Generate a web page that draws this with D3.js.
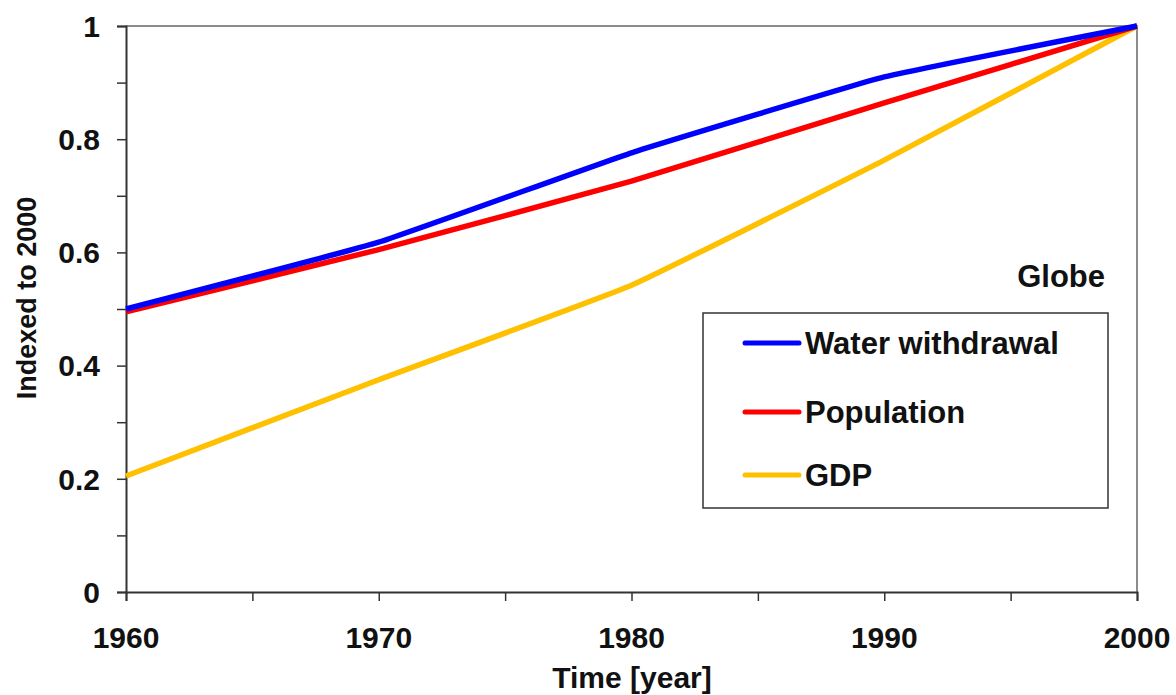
<!DOCTYPE html>
<html><head><meta charset="utf-8">
<script src="https://cdn.jsdelivr.net/npm/d3@7"></script>
<style>body{margin:0;background:#fff}svg{display:block}text{font-family:"Liberation Sans",Arial,sans-serif;font-weight:bold;fill:#111}</style>
</head><body>
<script>
const years = [1960, 1970, 1980, 1990, 2000];
const waterWithdrawal = [0.500, 0.618, 0.776, 0.910, 1.000];
const population = [0.495, 0.605, 0.726, 0.864, 1.000];
const gdp = [0.205, 0.375, 0.542, 0.763, 1.000];
const seriesNames = ["Water withdrawal", "Population", "GDP"];
const seriesColors = ["#0000ff", "#ff0000", "#ffc000"];
const xTickLabels = [1960, 1970, 1980, 1990, 2000];
const yTickLabels = [0, 0.2, 0.4, 0.6, 0.8, 1];

const W = 1176, H = 695;
const svg = d3.select("body").append("svg").attr("width", W).attr("height", H);
const x = d3.scaleLinear().domain([1960, 2000]).range([126, 1137]);
const y = d3.scaleLinear().domain([0, 1]).range([592, 26]);

// frame top/right
svg.append("path").attr("d", `M${x(1960)},${y(1)}H${x(2000)}V${y(0)}`)
  .attr("fill", "none").attr("stroke", "#8c8c8c").attr("stroke-width", 2);

// y axis
const yAxis = svg.append("g").attr("transform", `translate(${x(1960)},0)`)
  .call(d3.axisLeft(y).tickValues(d3.range(0, 1.01, 0.1)).tickSize(9).tickFormat(""));
yAxis.select(".domain").attr("stroke", "#333").attr("stroke-width", 2);
yAxis.selectAll(".tick line").attr("stroke", "#333").attr("stroke-width", 1.5);
svg.append("g").selectAll("text").data(yTickLabels).join("text")
  .attr("x", 100).attr("y", d => y(d)).attr("dy", "0.36em")
  .attr("text-anchor", "end").attr("font-size", 30).text(d => d3.format("")(d));

// x axis
const xAxis = svg.append("g").attr("transform", `translate(0,${y(0)})`)
  .call(d3.axisBottom(x).tickValues(d3.range(1960, 2001, 5)).tickSize(9).tickFormat(""));
xAxis.select(".domain").attr("stroke", "#333").attr("stroke-width", 2);
xAxis.selectAll(".tick line").attr("stroke", "#333").attr("stroke-width", 1.5);
svg.append("g").selectAll("text").data(xTickLabels).join("text")
  .attr("x", d => x(d)).attr("y", 648)
  .attr("text-anchor", "middle").attr("font-size", 30).text(d => d);

// titles
svg.append("text").attr("x", 632).attr("y", 688).attr("text-anchor", "middle")
  .attr("font-size", 30).text("Time [year]");
svg.append("text").attr("transform", "translate(36,298) rotate(-90)").attr("text-anchor", "middle")
  .attr("font-size", 27).text("Indexed to 2000");

// lines
const allSeries = [waterWithdrawal, population, gdp];
const line = d3.line().x((d, i) => x(years[i])).y(d => y(d)).curve(d3.curveCardinal.tension(0.7));
[2, 1, 0].forEach(k => {
  svg.append("path").datum(allSeries[k]).attr("d", line)
    .attr("fill", "none").attr("stroke", seriesColors[k]).attr("stroke-width", 5.5)
    .attr("stroke-linejoin", "round");
});

// Globe label
svg.append("text").attr("x", 1105).attr("y", 287).attr("text-anchor", "end")
  .attr("font-size", 31).text("Globe");

// legend
svg.append("rect").attr("x", 703).attr("y", 313).attr("width", 405).attr("height", 195)
  .attr("fill", "#fff").attr("stroke", "#333").attr("stroke-width", 1.5);
const legY = [343, 412, 475];
seriesNames.forEach((n, i) => {
  svg.append("line").attr("x1", 745).attr("x2", 799).attr("y1", legY[i]).attr("y2", legY[i])
    .attr("stroke", seriesColors[i]).attr("stroke-width", 5).attr("stroke-linecap", "round");
  svg.append("text").attr("x", 805).attr("y", legY[i]).attr("dy", "0.36em")
    .attr("font-size", 31).text(n);
});
</script>
</body></html>
